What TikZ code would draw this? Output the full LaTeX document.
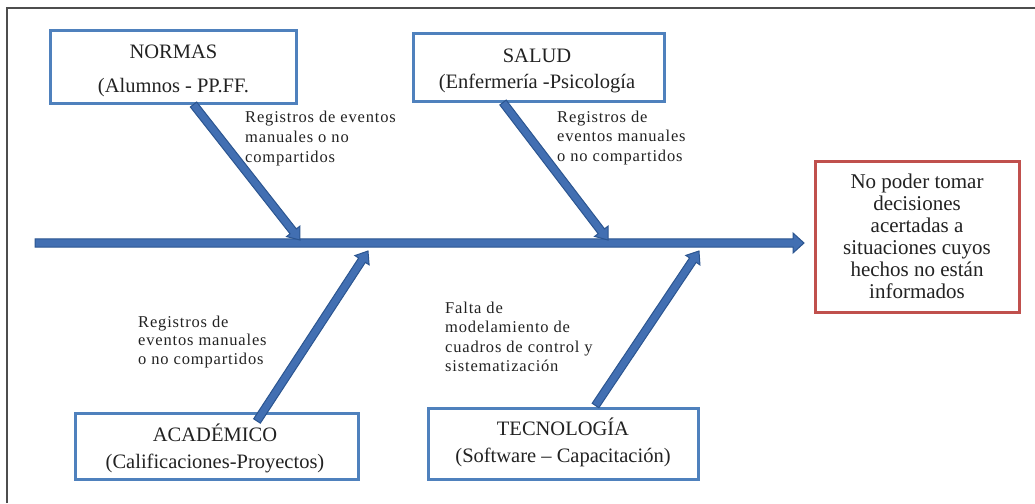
\documentclass[tikz,border=0pt]{standalone}
\usepackage{fontspec}
\setmainfont{Liberation Serif}
\newfontfamily\lblfont[LetterSpace=5]{Liberation Serif}
\usetikzlibrary{calc}
\definecolor{boxblue}{HTML}{4F81BD}
\definecolor{boxred}{HTML}{C0504D}
\definecolor{arrfill}{HTML}{426FB2}
\definecolor{arrdraw}{HTML}{2B5590}
\definecolor{framegray}{HTML}{4D4D4D}
\definecolor{txt}{HTML}{222222}
\newcommand\blockarr[5]{%
  \path ($(#2)!#5!(#1)$) coordinate (hb);
  \filldraw[arrstyle] ($(#1)!#3!90:(#2)$) -- ($(hb)!#3!90:(#2)$) -- ($(hb)!#4!90:(#2)$) -- (#2)
    -- ($(hb)!#4!-90:(#2)$) -- ($(hb)!#3!-90:(#2)$) -- ($(#1)!#3!-90:(#2)$) -- cycle;}
\begin{document}
\begin{tikzpicture}[x=1pt,y=-1pt,
  cause/.style={draw=boxblue, line width=3pt, fill=white, inner sep=0pt},
  effect/.style={draw=boxred, line width=3pt, fill=white, inner sep=0pt},
  boxtext/.style={text=txt, font=\fontsize{20.5}{22}\selectfont, inner sep=0pt, anchor=base},
  efftext/.style={text=txt, font=\fontsize{21}{22}\selectfont, inner sep=0pt, anchor=base},
  lbl/.style={text=txt, font=\lblfont\fontsize{16.5}{19}\selectfont, inner sep=0pt, anchor=base west},
  arrstyle/.style={fill=arrfill, draw=arrdraw, line width=1pt, line join=miter}]
\useasboundingbox (0,0) rectangle (1035,503);
\draw[framegray, line width=2pt] (7,503) -- (7,8.5) -- (1035,8.5);

% boxes
\node[cause, minimum width=246pt, minimum height=72pt] (normas) at (173.5,67) {};
\node[cause, minimum width=251pt, minimum height=67pt] (salud) at (538.5,67.5) {};
\node[cause, minimum width=283pt, minimum height=66pt] (acad) at (216.5,446) {};
\node[cause, minimum width=270pt, minimum height=71pt] (tecno) at (563,443.5) {};
\node[effect, minimum width=204pt, minimum height=151pt] (efecto) at (917,236.5) {};

% box texts
\node[boxtext] (normasA) at (173.5,58.5) {NORMAS};
\node[boxtext] (normasB) at (173.5,92) {(Alumnos - PP.FF.};
\node[boxtext] (saludA) at (537,63) {SALUD};
\node[boxtext] (saludB) at (537,88.5) {(Enfermería -Psicología};
\node[boxtext] (acadA) at (215,441) {ACADÉMICO};
\node[boxtext] (acadB) at (215,468) {(Calificaciones-Proyectos)};
\node[boxtext] (tecnoA) at (563,435) {TECNOLOGÍA};
\node[boxtext] (tecnoB) at (563,462) {(Software – Capacitación)};
\foreach \t [count=\i from 0] in {No poder tomar,decisiones,acertadas a,situaciones cuyos,hechos no están,informados}
  \node[efftext] (eff\i) at (917,{188.5+22*\i}) {\t};

% labels
\foreach \t [count=\i from 0] in {Registros de eventos,manuales o no,compartidos}
  \node[lbl] (lblN\i) at (245,{122.5+20*\i}) {\t};
\foreach \t [count=\i from 0] in {Registros de,eventos manuales,o no compartidos}
  \node[lbl] (lblS\i) at (557,{122+19.5*\i}) {\t};
\foreach \t [count=\i from 0] in {Registros de,eventos manuales,o no compartidos}
  \node[lbl] (lblA\i) at (138,{327+18.5*\i}) {\t};
\foreach \t [count=\i from 0] in {Falta de,modelamiento de,cuadros de control y,sistematización}
  \node[lbl] (lblT\i) at (445,{313.5+19.4*\i}) {\t};

% spine and bones
\coordinate (spineS) at (35,243);
\coordinate (spineE) at (804,243);
\coordinate (nS) at ($(normas.south west)+(144.5,0)$);
\coordinate (nE) at (300,240);
\coordinate (sS) at ($(salud.south west)+(91.5,0)$);
\coordinate (sE) at (608,240);
\coordinate (aS) at (257,421);
\coordinate (aE) at (368,251);
\coordinate (tS) at ($(tecno.north west)+(169,-1)$);
\coordinate (tE) at (699,251);
\blockarr{spineS}{spineE}{4.2pt}{10pt}{11pt}
\blockarr{nS}{nE}{4pt}{8.5pt}{11pt}
\blockarr{sS}{sE}{4pt}{8.5pt}{11pt}
\blockarr{aS}{aE}{4pt}{8.5pt}{11pt}
\blockarr{tS}{tE}{4pt}{8.5pt}{11pt}
\end{tikzpicture}
\end{document}
